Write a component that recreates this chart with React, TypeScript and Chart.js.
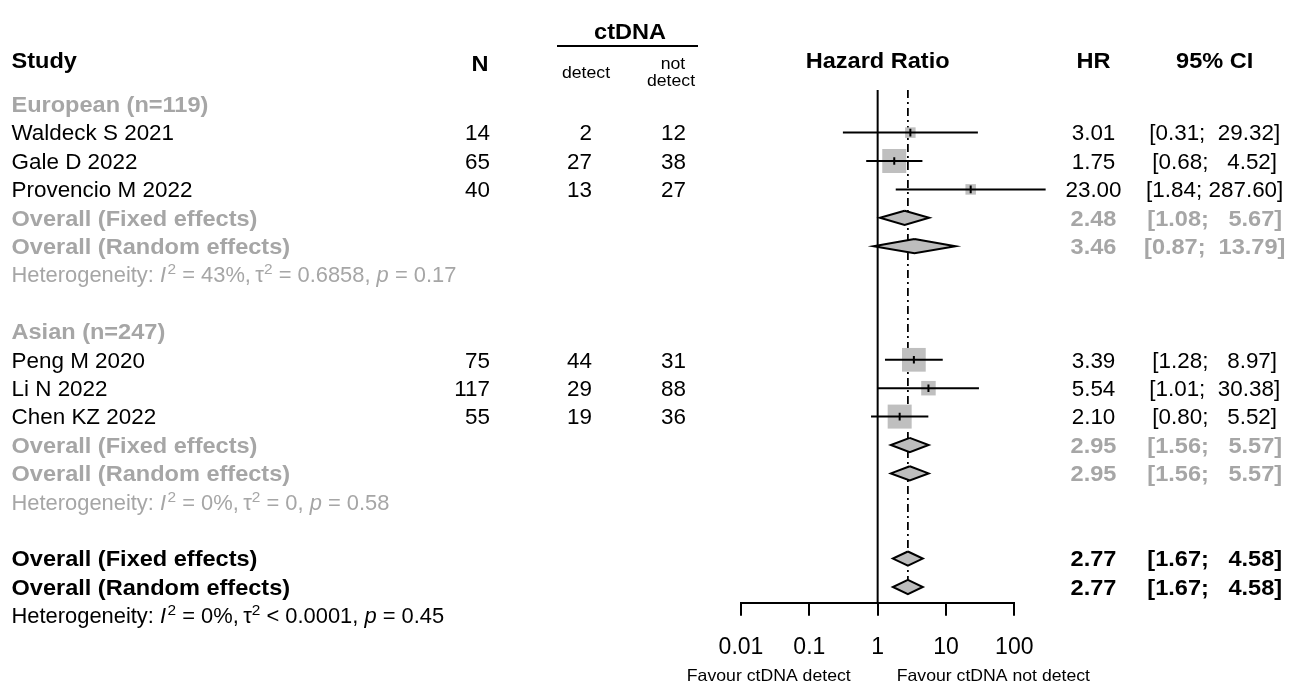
import React, { useEffect, useRef } from 'react';
import { Chart, registerables } from 'chart.js';

Chart.register(...registerables);

// ---------------- data ----------------
const studyNames = ['Waldeck S 2021', 'Gale D 2022', 'Provencio M 2022', 'Peng M 2020', 'Li N 2022', 'Chen KZ 2022'];
const studyRows = [1, 2, 3, 9, 10, 11];
const totalN = [14, 65, 40, 75, 117, 55];
const nDetect = [2, 27, 13, 44, 29, 19];
const nNotDetect = [12, 38, 27, 31, 88, 36];
const studyHR = [3.01, 1.75, 23.0, 3.39, 5.54, 2.1];
const studyLow = [0.31, 0.68, 1.84, 1.28, 1.01, 0.8];
const studyHigh = [29.32, 4.52, 287.6, 8.97, 30.38, 5.52];

const pooledNames = ['Overall (Fixed effects)', 'Overall (Random effects)', 'Overall (Fixed effects)', 'Overall (Random effects)', 'Overall (Fixed effects)', 'Overall (Random effects)'];
const pooledRows = [4, 5, 12, 13, 16, 17];
const pooledHR = [2.48, 3.46, 2.95, 2.95, 2.77, 2.77];
const pooledLow = [1.08, 0.87, 1.56, 1.56, 1.67, 1.67];
const pooledHigh = [5.67, 13.79, 5.57, 5.57, 4.58, 4.58];
const pooledIsSubgroup = [true, true, true, true, false, false];

const subgroupNames = ['European (n=119)', 'Asian (n=247)'];
const subgroupRows = [0, 8];

const hetRows = [6, 14, 18];
const hetI2 = ['43%', '0%', '0%'];
const hetTauOp = ['=', '=', '<'];
const hetTau2 = ['0.6858', '0', '0.0001'];
const hetP = ['0.17', '0.58', '0.45'];
const hetIsSubgroup = [true, true, false];

const xTickValues = [0.01, 0.1, 1, 10, 100];
const xTickLabels = ['0.01', '0.1', '1', '10', '100'];
const nullEffect = 1;
const overallEffect = 2.77;

// ---------------- style ----------------
const W = 1299;
const H = 684;
const FONT = '"Liberation Sans", Arial, Helvetica, sans-serif';
const GRAY_TEXT = '#a6a6a6';
const BOX_FILL = '#bfbfbf';
const DIAMOND_FILL = '#bdbdbd';
const boxSidePx = [10.5, 24, 10.5, 23.7, 14.5, 24];
const AXIS_Y = 602.7;
const PLOT_TOP = 90;
const PLOT_LEFT = 741;
const PLOT_RIGHT = 1014.3;
const Y_MIN = -0.5;
const Y_MAX = 17.553;
const DIAMOND_HALF = 0.25;

const COL_LABEL = 11.5;
const COL_N = 490;
const COL_DET = 592;
const COL_NOT = 686;
const COL_HR = 1093.5;
const COL_CI = 1214.7;

const REG_SIZE = 22;
const REG_SX = 1.02;
const BOLD_SX = 1.07;
const BASE_OFF = 7.9;

type TOpts = { size?: number; bold?: boolean; italic?: boolean; color?: string; align?: CanvasTextAlign; sx?: number };

function setFont(ctx: CanvasRenderingContext2D, o: TOpts) {
  ctx.font = `${o.italic ? 'italic ' : ''}${o.bold ? 'bold ' : ''}${o.size ?? REG_SIZE}px ${FONT}`;
}

function drawText(ctx: CanvasRenderingContext2D, s: string, x: number, y: number, o: TOpts = {}) {
  ctx.save();
  setFont(ctx, o);
  ctx.fillStyle = o.color ?? '#000';
  ctx.textAlign = o.align ?? 'left';
  ctx.textBaseline = 'alphabetic';
  ctx.translate(x, y);
  ctx.scale(o.sx ?? (o.bold ? BOLD_SX : REG_SX), 1);
  ctx.fillText(s, 0, 0);
  ctx.restore();
}

function textWidth(ctx: CanvasRenderingContext2D, s: string, o: TOpts = {}) {
  ctx.save();
  setFont(ctx, o);
  const w = ctx.measureText(s).width * (o.sx ?? (o.bold ? BOLD_SX : REG_SX));
  ctx.restore();
  return w;
}

const fmtCI = (lo: number, hi: number) => `[${lo.toFixed(2)}; ${hi.toFixed(2).padStart(6, ' ')}]`;

const textPlugin = {
  id: 'forestText',
  afterDraw(chart: any) {
    const ctx: CanvasRenderingContext2D = chart.ctx;
    const ys = chart.scales.y;
    const xs = chart.scales.x;
    const base = (row: number) => ys.getPixelForValue(row) + BASE_OFF;

    // headers
    drawText(ctx, 'Study', COL_LABEL, 68, { bold: true });
    drawText(ctx, 'N', COL_N - 10, 71, { bold: true, align: 'center' });
    drawText(ctx, 'ctDNA', 630, 39, { bold: true, align: 'center' });
    ctx.save();
    ctx.strokeStyle = '#000';
    ctx.lineWidth = 2;
    ctx.beginPath();
    ctx.moveTo(557, 46);
    ctx.lineTo(698, 46);
    ctx.stroke();
    ctx.restore();
    drawText(ctx, 'detect', 586, 77.5, { size: 16.5, sx: 1.07, align: 'center' });
    drawText(ctx, 'not', 673, 68.5, { size: 16.5, sx: 1.07, align: 'center' });
    drawText(ctx, 'detect', 671, 85.5, { size: 16.5, sx: 1.07, align: 'center' });
    drawText(ctx, 'Hazard Ratio', xs.getPixelForValue(nullEffect), 68, { bold: true, align: 'center' });
    drawText(ctx, 'HR', COL_HR, 68, { bold: true, align: 'center' });
    drawText(ctx, '95% CI', COL_CI, 68, { bold: true, align: 'center' });

    // subgroup headers
    subgroupNames.forEach((s, i) => drawText(ctx, s, COL_LABEL, base(subgroupRows[i]), { bold: true, color: GRAY_TEXT }));

    // studies
    studyNames.forEach((s, i) => {
      const y = base(studyRows[i]);
      drawText(ctx, s, COL_LABEL, y);
      drawText(ctx, String(totalN[i]), COL_N, y, { align: 'right' });
      drawText(ctx, String(nDetect[i]), COL_DET, y, { align: 'right' });
      drawText(ctx, String(nNotDetect[i]), COL_NOT, y, { align: 'right' });
      drawText(ctx, studyHR[i].toFixed(2), COL_HR, y, { align: 'center' });
      drawText(ctx, fmtCI(studyLow[i], studyHigh[i]), COL_CI, y, { align: 'center' });
    });

    // pooled
    pooledNames.forEach((s, i) => {
      const y = base(pooledRows[i]);
      const color = pooledIsSubgroup[i] ? GRAY_TEXT : '#000';
      drawText(ctx, s, COL_LABEL, y, { bold: true, color });
      drawText(ctx, pooledHR[i].toFixed(2), COL_HR, y, { bold: true, color, align: 'center' });
      drawText(ctx, fmtCI(pooledLow[i], pooledHigh[i]), COL_CI, y, { bold: true, color, align: 'center' });
    });

    // heterogeneity
    hetRows.forEach((r, i) => {
      const y = base(r);
      const color = hetIsSubgroup[i] ? GRAY_TEXT : '#000';
      const sx = 0.995;
      const pieces: [string, TOpts, number][] = [
        ['Heterogeneity: ', {}, 0],
        ['I', { italic: true }, 0],
        ['2', { size: 15.5 }, -8],
        [` = ${hetI2[i]},\u2009`, {}, 0],
        ['\u03c4', {}, 0],
        ['2', { size: 15.5 }, -8],
        [` ${hetTauOp[i]} ${hetTau2[i]}, `, {}, 0],
        ['p', { italic: true }, 0],
        [` = ${hetP[i]}`, {}, 0],
      ];
      let x = COL_LABEL;
      pieces.forEach(([t, o, dy]) => {
        const oo = { ...o, color, sx };
        drawText(ctx, t, x, y + dy, oo);
        x += textWidth(ctx, t, oo);
        if (t === 'I') x += 1.5;
      });
    });

    // favour labels
    drawText(ctx, 'Favour ctDNA detect', 850.7, 680.5, { size: 16.5, sx: 1.07, align: 'right' });
    drawText(ctx, 'Favour ctDNA not detect', 896.7, 680.5, { size: 16.5, sx: 1.07, align: 'left' });
  },
};

function buildConfig(): any {
  const datasets: any[] = [];
  datasets.push({
    type: 'scatter',
    showLine: true,
    data: [{ x: nullEffect, y: Y_MIN }, { x: nullEffect, y: Y_MAX }],
    borderColor: '#000',
    borderWidth: 2,
    pointRadius: 0,
    order: 10,
  });
  datasets.push({
    type: 'scatter',
    showLine: true,
    data: [{ x: overallEffect, y: Y_MIN }, { x: overallEffect, y: pooledRows[pooledRows.length - 1] + DIAMOND_HALF }],
    borderColor: '#000',
    borderWidth: 1.8,
    borderDash: [8, 4, 2, 4],
    pointRadius: 0,
    order: 9,
  });
  datasets.push({
    type: 'scatter',
    data: studyHR.map((v, i) => ({ x: v, y: studyRows[i] })),
    pointStyle: 'rect',
    pointRadius: boxSidePx.map((s) => s / 2 / Math.SQRT1_2),
    backgroundColor: BOX_FILL,
    borderWidth: 0,
    order: 5,
    clip: false,
  });
  studyHR.forEach((_, i) => {
    datasets.push({
      type: 'scatter',
      showLine: true,
      data: [{ x: studyLow[i], y: studyRows[i] }, { x: studyHigh[i], y: studyRows[i] }],
      borderColor: '#000',
      borderWidth: 2,
      pointRadius: 0,
      order: 3,
      clip: false,
    });
  });
  datasets.push({
    type: 'scatter',
    data: studyHR.map((v, i) => ({ x: v, y: studyRows[i] })),
    pointStyle: 'line',
    rotation: 90,
    pointRadius: 3.8,
    borderColor: '#000',
    borderWidth: 2,
    order: 2,
  });
  pooledHR.forEach((v, i) => {
    const r = pooledRows[i];
    datasets.push({
      type: 'scatter',
      showLine: true,
      data: [
        { x: v, y: r - DIAMOND_HALF },
        { x: pooledHigh[i], y: r },
        { x: v, y: r + DIAMOND_HALF },
        { x: pooledLow[i], y: r },
        { x: v, y: r - DIAMOND_HALF },
      ],
      borderColor: '#000',
      borderWidth: 2,
      borderJoinStyle: 'miter',
      backgroundColor: DIAMOND_FILL,
      fill: 'shape',
      pointRadius: 0,
      order: 1,
      clip: false,
    });
  });

  return {
    type: 'scatter',
    data: { datasets },
    options: {
      animation: false,
      responsive: false,
      devicePixelRatio: 1,
      events: [],
      layout: { padding: { left: PLOT_LEFT, right: W - PLOT_RIGHT, top: PLOT_TOP, bottom: 0 } },
      plugins: { legend: { display: false }, tooltip: { enabled: false } },
      scales: {
        x: {
          type: 'logarithmic',
          min: xTickValues[0],
          max: xTickValues[xTickValues.length - 1],
          position: 'bottom',
          afterBuildTicks: (s: any) => {
            s.ticks = xTickValues.map((v) => ({ value: v }));
          },
          afterFit: (s: any) => {
            s.height = H - AXIS_Y;
          },
          ticks: {
            callback: (_v: any, i: number) => xTickLabels[i],
            font: { family: FONT, size: 23 },
            color: '#000',
            padding: 18.5,
            maxRotation: 0,
            autoSkip: false,
          },
          grid: { drawOnChartArea: false, drawTicks: true, tickLength: 13, color: '#000', lineWidth: 2 },
          border: { display: true, color: '#000', width: 2 },
        },
        y: {
          type: 'linear',
          min: Y_MIN,
          max: Y_MAX,
          reverse: true,
          display: false,
        },
      },
    },
    plugins: [textPlugin],
  };
}

export default function App() {
  const ref = useRef<HTMLCanvasElement>(null);
  useEffect(() => {
    if (!ref.current) return;
    const chart = new Chart(ref.current, buildConfig());
    return () => chart.destroy();
  }, []);
  return (
    <div style={{ position: 'absolute', left: 0, top: 0, width: W, height: H, background: '#fff' }}>
      <canvas ref={ref} width={W} height={H} style={{ display: 'block', width: W, height: H }} />
    </div>
  );
}
